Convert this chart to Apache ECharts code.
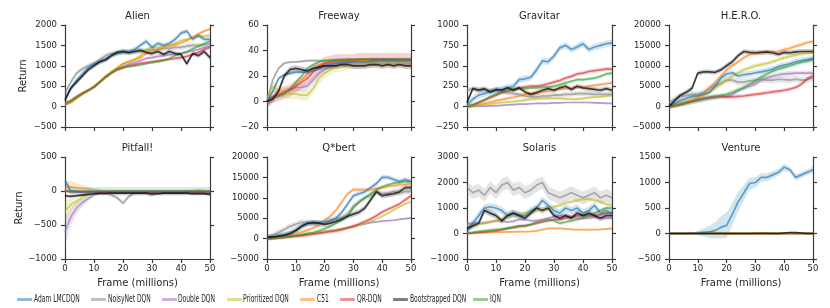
<!DOCTYPE html>
<html><head><meta charset="utf-8">
<script src="https://cdn.jsdelivr.net/npm/echarts@6/dist/echarts.min.js"></script>
<style>html,body{margin:0;padding:0;background:#fff}#c{width:830px;height:308px}</style>
</head><body><div id="c"></div>
<script>
// ---------- DATA ----------
const frames = [0,2,4,6,8,10,12,14,16,18,20,22,24,26,28,30,32,34,36,38,40,42,44,46,48,50];
const seriesNames = ['Adam LMCDQN','NoisyNet DQN','Double DQN','Prioritized DQN','C51','QR-DQN','Bootstrapped DQN','IQN'];
const gameTitles = ['Alien','Freeway','Gravitar','H.E.R.O.','Pitfall!','Q*bert','Solaris','Venture'];
const yMin  = [-500, -20, -250, -5000, -1000, -5000, -1000, -500];
const yMax  = [2000, 60, 1000, 20000, 500, 20000, 3000, 1500];
const yStep = [500, 20, 250, 5000, 500, 5000, 1000, 500];

// Alien
const alien_adam  = [200,450,650,800,950,1050,1100,1150,1250,1300,1350,1350,1400,1500,1600,1450,1550,1500,1550,1650,1800,1850,1650,1750,1650,1650];
const alien_noisy = [330,600,820,920,1000,1050,1150,1250,1300,1320,1330,1340,1350,1350,1380,1400,1400,1420,1430,1450,1450,1480,1500,1500,1520,1530];
const alien_double= [50,120,220,320,400,480,600,720,830,920,980,1040,1080,1130,1180,1200,1230,1250,1270,1290,1300,1330,1370,1400,1450,1480];
const alien_prior = [50,120,220,320,400,480,600,730,850,950,1050,1100,1150,1250,1400,1450,1450,1480,1500,1550,1620,1650,1700,1720,1730,1750];
const alien_c51   = [50,100,200,300,380,500,620,750,850,950,1050,1100,1150,1200,1300,1350,1400,1450,1480,1520,1560,1620,1700,1780,1850,1900];
const alien_qr    = [100,150,250,330,400,480,600,720,820,900,950,1000,1030,1060,1080,1100,1120,1140,1160,1180,1200,1230,1280,1330,1400,1450];
const alien_boot  = [150,450,600,750,900,1000,1100,1150,1250,1330,1350,1320,1350,1380,1330,1300,1350,1280,1350,1300,1280,1050,1300,1250,1350,1200];
const alien_iqn   = [50,130,230,320,400,480,600,720,830,920,960,980,1000,1020,1050,1080,1100,1130,1180,1250,1300,1350,1420,1480,1540,1600];
const alien_sd    = [60,60,40,40,40,40,60,30];

// Freeway
const freeway_adam  = [0,8,18,21,22,23,23,23,24,26,28,29,30,30,30.5,31,31,31,31.5,32,32,32,32,32,32,32];
const freeway_noisy = [0,17,26,30,31,31,31.5,32,32,32,32,32.5,33,33,33,33,33,33,33,33,33,33,33,33,33,33];
const freeway_double= [-2,2,5,7,9,11,11,12,17,22,25,27,29,30,31,31,31,31,31,31,31,31,31,31,31,31];
const freeway_prior = [2,12,9,7,6,6,5,5,10,18,22,25,27,28,29,30,30,30,31,31,31,31,31,31,31,31];
const freeway_c51   = [0,3,5,8,10,13,17,21,25,28,30,31,32,32,32,32,32,32,32,32,32,32,32,32,32,32];
const freeway_qr    = [0,4,5,7,9,12,15,18,23,27,30,31,32,32,32,32,33,33,33,33,33,33,33,33,33,33];
const freeway_boot  = [0,2,8,20,25,26,25,24,26,27,28,28,28,29,29,28,28,28,29,29,28,29,28,29,28,28];
const freeway_iqn   = [1,3,4,6,10,15,20,26,29,31,32,32,32,32.5,33,33,33,33,33,33,33,33,33,33,33,33];
const freeway_sd    = [1.5,1,3,4,1.5,5,2.5,1];

// Gravitar
const gravitar_adam  = [20,90,140,160,180,200,210,230,250,330,340,360,450,560,550,620,720,750,700,730,770,700,730,750,770,780];
const gravitar_noisy = [200,220,210,200,200,190,180,170,160,150,130,120,120,130,130,140,140,150,150,160,160,160,150,150,150,150];
const gravitar_double= [0,2,4,6,8,10,15,20,25,30,30,35,40,40,40,45,45,50,50,50,50,50,45,45,40,40];
const gravitar_prior = [0,10,15,20,30,40,50,55,60,70,80,90,95,100,100,100,100,95,90,90,100,110,115,120,130,140];
const gravitar_c51   = [0,10,25,40,55,70,85,100,115,130,150,160,170,180,190,200,210,220,230,240,240,250,260,270,280,290];
const gravitar_qr    = [0,20,50,80,110,140,170,190,210,230,240,250,250,260,280,300,320,350,370,400,410,430,440,450,460,460];
const gravitar_boot  = [50,220,200,220,180,210,200,230,200,230,180,150,170,200,220,200,230,250,210,250,230,220,210,200,220,200];
const gravitar_iqn   = [0,20,50,80,120,150,180,200,210,220,220,230,230,240,240,250,270,290,310,330,330,340,350,370,400,410];
const gravitar_sd    = [40,30,10,20,20,25,30,20];

// H.E.R.O.
const hero_adam  = [0,800,1500,2000,2500,2700,3000,3500,5000,7000,8000,8300,7500,7800,8000,8300,8500,8800,9200,9800,10200,10500,11000,11300,11500,11800];
const hero_noisy = [1000,1800,2500,2700,3000,3000,3500,4500,5200,5800,6500,6500,6000,6000,6300,6500,6700,6500,6500,6700,6600,6500,6700,6500,6600,7000];
const hero_double= [0,300,600,900,1200,1500,1800,2000,2200,2400,2500,3000,4000,4500,5000,5500,6500,7000,7500,7800,8000,8100,8200,8200,8200,8200];
const hero_prior = [0,300,700,1200,1700,2200,2800,3600,4500,5500,6500,7500,8300,9000,9500,10000,10300,10600,11000,11500,12000,12300,12600,12900,13100,13200];
const hero_c51   = [0,300,700,1100,1600,2200,3200,4500,6000,7500,9000,10000,11000,12000,12800,13000,13200,13300,13400,13500,14000,14300,14800,15200,15700,16000];
const hero_qr    = [0,200,500,900,1300,1700,2000,2300,2500,2500,2400,2400,2500,2600,2800,3000,3200,3400,3600,3800,4000,4300,4700,5500,6800,7500];
const hero_boot  = [0,1500,2800,3500,4500,8200,8500,8500,8400,9000,10000,11000,12500,13500,13300,13200,13300,13400,13200,12800,13300,13200,13400,13500,13500,13500];
const hero_iqn   = [0,300,600,900,1200,1500,1800,2100,2400,2700,3000,3500,4000,4700,5500,6300,7200,8000,8700,9200,9600,10000,10500,10900,11200,11500];
const hero_sd    = [700,800,600,600,500,500,600,600];

// Pitfall!
const pitfall_adam  = [150,0,-10,-10,-10,-10,-5,-5,-5,-5,-5,-5,-5,-5,-5,-5,-5,-5,-5,-5,-5,-5,-5,-5,-5,-5];
const pitfall_noisy = [0,-10,-15,-20,-20,-20,-20,-20,-60,-100,-180,-80,-30,-20,-30,-60,-30,-20,-20,-20,-20,-20,-20,-20,-30,-30];
const pitfall_double= [-600,-380,-250,-170,-110,-60,-25,-10,-5,0,0,0,0,0,0,0,0,0,0,0,0,0,0,0,-5,-5];
const pitfall_prior = [-300,-200,-150,-100,-60,-30,-10,-5,0,0,0,0,0,0,0,0,0,0,0,0,0,0,0,0,0,0];
const pitfall_c51   = [50,60,50,40,30,15,5,0,0,0,0,0,0,0,0,0,0,0,0,0,0,0,0,10,5,0];
const pitfall_qr    = [0,-10,-10,-15,-15,-15,-20,-20,-20,-20,-20,-20,-20,-20,-20,-20,-20,-20,-20,-20,-20,-20,-20,-20,-20,-20];
const pitfall_boot  = [-70,-80,-70,-60,-50,-40,-35,-35,-30,-30,-30,-30,-30,-30,-30,-40,-40,-30,-30,-30,-30,-30,-40,-40,-40,-50];
const pitfall_iqn   = [0,-5,-5,-5,-5,-5,-5,-5,-5,-5,-5,-5,-5,-5,-5,-5,-5,-5,-5,-5,-5,-5,-5,-5,-5,-5];
const pitfall_double_sd = [200,130,90,60,40,25,10,10,10,10,10,10,10,10,10,10,10,10,10,10,10,10,10,10,10,10];
const pitfall_prior_sd  = [150,100,70,50,30,15,10,10,10,10,10,10,10,10,10,10,10,10,10,10,10,10,10,10,10,10];
const pitfall_c51_sd    = [80,90,70,50,40,30,20,15,15,15,15,15,15,15,15,15,15,15,15,15,15,15,20,20,15,15];
const pitfall_sd    = [60,30,pitfall_double_sd,pitfall_prior_sd,pitfall_c51_sd,15,20,10];

// Q*bert
const qbert_adam  = [300,400,600,900,1400,2000,3000,3700,3900,3900,4000,4500,5000,6500,8500,10500,11000,11500,12500,13500,15000,15000,14500,14000,14500,14000];
const qbert_noisy = [300,800,1500,2200,3000,3500,4000,4000,3800,3700,4000,4300,4700,5200,6000,8000,9000,10000,10500,11500,11000,11000,11500,11200,11500,11500];
const qbert_double= [0,100,200,350,500,700,900,1100,1300,1500,1700,1900,2100,2400,2700,3000,3300,3600,3900,4100,4300,4400,4500,4700,4900,5100];
const qbert_prior = [0,100,200,350,500,700,900,1100,1300,1500,1800,2000,2200,2400,2700,3000,3300,3700,4200,4800,5500,6200,7000,7800,8500,9000];
const qbert_c51   = [0,200,400,600,900,1200,1600,2000,2600,3200,4500,5500,7000,9000,11000,12000,12000,12000,12000,12300,12500,12800,13000,13200,13300,13500];
const qbert_qr    = [0,100,200,300,450,600,750,900,1100,1300,1500,1700,1900,2200,2600,3000,3600,4200,4800,5600,6500,7200,7800,8500,9500,10500];
const qbert_boot  = [300,400,600,800,1200,2000,3000,3700,3900,3800,3500,3800,4200,4800,5500,6000,6500,7500,9500,11500,10500,10800,11000,11500,12500,12500];
const qbert_iqn   = [0,100,250,400,550,700,900,1200,1500,1900,2400,3000,3800,4500,5500,7500,9000,10000,11000,12000,12700,13200,13600,13800,14000,14000];
const qbert_sd    = [600,700,200,300,500,500,700,400];

// Solaris
const solaris_adam  = [100,400,700,1000,1050,1000,900,700,800,700,700,900,1000,1300,1100,900,800,1000,900,1000,800,900,1100,800,900,800];
const solaris_noisy = [1800,1600,1700,1500,1800,1600,1900,2000,1700,1800,1600,1700,1900,2000,1600,1500,1400,1500,1600,1500,1400,1500,1600,1400,1500,1400];
const solaris_double= [400,400,400,420,450,500,480,450,480,550,550,500,500,550,600,650,700,700,650,600,600,600,650,600,600,600];
const solaris_prior = [300,330,370,400,450,500,550,650,700,750,800,850,900,950,1000,1050,1100,1200,1250,1300,1350,1350,1300,1250,1150,1100];
const solaris_c51   = [0,10,20,30,40,50,55,60,65,70,70,80,100,150,200,200,200,180,160,150,150,150,150,160,180,200];
const solaris_qr    = [0,20,40,60,80,100,150,200,250,300,300,350,400,450,500,550,550,600,650,700,700,700,700,750,800,800];
const solaris_boot  = [200,300,400,900,800,700,500,700,800,700,600,800,1000,900,1000,700,600,700,600,800,700,800,700,600,700,700];
const solaris_iqn   = [0,40,80,100,130,150,170,200,230,270,300,350,450,500,550,500,400,450,500,550,600,700,800,900,1000,1000];
const solaris_sd    = [150,250,60,80,40,60,120,70];

// Venture
const venture_adam  = [0,0,0,0,5,10,20,30,60,120,160,380,620,800,980,1000,1100,1100,1150,1200,1300,1250,1100,1150,1200,1250];
const venture_noisy = [0,0,0,0,0,0,0,0,0,0,0,0,0,0,0,0,0,0,0,0,0,0,0,0,0,0];
const venture_double= [0,0,0,0,0,0,0,0,0,0,0,0,0,0,0,0,0,0,0,0,0,0,0,0,0,0];
const venture_prior = [0,0,0,0,5,20,30,30,20,10,0,0,0,0,0,0,0,0,0,0,0,0,0,0,0,0];
const venture_c51   = [0,0,0,0,0,0,0,0,0,0,0,0,0,0,0,0,0,0,0,0,0,0,0,0,0,0];
const venture_qr    = [0,0,0,0,0,0,0,0,0,0,0,0,0,0,0,5,10,5,0,0,0,0,0,0,0,0];
const venture_boot  = [0,0,0,0,0,0,0,0,0,0,0,0,0,0,0,0,0,0,0,0,10,20,20,10,0,0];
const venture_iqn   = [0,0,0,0,0,0,0,0,0,0,0,0,0,0,0,0,0,0,0,0,0,0,0,0,0,0];
const venture_adam_sd = [0,0,0,0,10,40,80,120,160,220,250,220,200,150,120,100,80,80,70,70,70,60,60,60,60,60];
const venture_sd    = [venture_adam_sd,10,10,25,10,15,15,10];

// ---------- BUILD ----------
const gameMeans = [
  [alien_adam,alien_noisy,alien_double,alien_prior,alien_c51,alien_qr,alien_boot,alien_iqn],
  [freeway_adam,freeway_noisy,freeway_double,freeway_prior,freeway_c51,freeway_qr,freeway_boot,freeway_iqn],
  [gravitar_adam,gravitar_noisy,gravitar_double,gravitar_prior,gravitar_c51,gravitar_qr,gravitar_boot,gravitar_iqn],
  [hero_adam,hero_noisy,hero_double,hero_prior,hero_c51,hero_qr,hero_boot,hero_iqn],
  [pitfall_adam,pitfall_noisy,pitfall_double,pitfall_prior,pitfall_c51,pitfall_qr,pitfall_boot,pitfall_iqn],
  [qbert_adam,qbert_noisy,qbert_double,qbert_prior,qbert_c51,qbert_qr,qbert_boot,qbert_iqn],
  [solaris_adam,solaris_noisy,solaris_double,solaris_prior,solaris_c51,solaris_qr,solaris_boot,solaris_iqn],
  [venture_adam,venture_noisy,venture_double,venture_prior,venture_c51,venture_qr,venture_boot,venture_iqn]
];
const gameSd = [alien_sd,freeway_sd,gravitar_sd,hero_sd,pitfall_sd,qbert_sd,solaris_sd,venture_sd];

const RGB = [[31,119,180],[127,127,127],[148,103,189],[188,189,34],[255,127,14],[214,39,40],[0,0,0],[44,160,44]];
const LINE_ALPHA = [0.65,0.6,0.6,0.6,0.6,0.6,0.7,0.6];
const rgba = (c,a) => `rgba(${c[0]},${c[1]},${c[2]},${a})`;
const DRAW_ORDER = [1,2,3,4,5,7,0,6];

const COL_L = [65,267,467,669];
const COL_W = [145,144,145,144];
const ROW_T = [25,157];
const GH = 102;
const FONT = '"DejaVu Sans", sans-serif';
const AX = '#3a3a3a';
const TXT = '#262626';
const minus = v => String(v).replace('-', '\u2212');

const grids=[], xAxes=[], yAxes=[], series=[], graphics=[];
for (let g=0; g<8; g++) {
  const row = g<4?0:1, col = g%4;
  grids.push({left:COL_L[col], top:ROW_T[row], width:COL_W[col], height:GH, containLabel:false, outerBoundsMode:'none'});
  xAxes.push({type:'value', gridIndex:g, min:0, max:50, interval:10,
    axisLine:{onZero:false, lineStyle:{color:AX, width:1.2}},
    axisTick:{show:true, length:4, lineStyle:{color:AX, width:1.2}},
    axisLabel:{show:row===1, margin:5, fontSize:8.5, color:TXT, fontFamily:FONT},
    splitLine:{show:false},
    name: row===1?'Frame (millions)':'', nameLocation:'middle', nameGap:19,
    nameTextStyle:{fontSize:10, color:TXT, fontFamily:FONT}});
  const yBase = {type:'value', gridIndex:g, min:yMin[g], max:yMax[g], interval:yStep[g],
    axisLine:{show:true, onZero:false, lineStyle:{color:AX, width:1.2}},
    axisTick:{show:true, length:4, lineStyle:{color:AX, width:1.2}},
    splitLine:{show:false}};
  yAxes.push(Object.assign({}, yBase, {position:'left',
    axisLabel:{show:true, margin:8, fontSize:8.5, color:TXT, fontFamily:FONT, formatter:minus},
    name: col===0?'Return':'', nameLocation:'middle', nameGap:37,
    nameTextStyle:{fontSize:10, color:TXT, fontFamily:FONT}}));
  yAxes.push(Object.assign({}, yBase, {position:'right', axisLabel:{show:false}}));

  graphics.push({type:'text', x:COL_L[col]+COL_W[col]/2, y: row?148:16, silent:true,
    style:{text:gameTitles[g], fill:TXT, fontSize:10, fontFamily:'DejaVu Sans', align:'center', verticalAlign:'middle'}});

  DRAW_ORDER.forEach(s => {
    const mean = gameMeans[g][s];
    const sdv = gameSd[g][s];
    const sd = Array.isArray(sdv) ? sdv : mean.map(()=>sdv);
    series.push({type:'custom', name:'band', xAxisIndex:g, yAxisIndex:2*g, silent:true, clip:true, z:2,
      data:[[0,0]], encode:{x:0,y:1},
      renderItem:(params, api) => {
        const pts=[];
        for (let i=0;i<frames.length;i++) pts.push(api.coord([frames[i], mean[i]+sd[i]]));
        for (let i=frames.length-1;i>=0;i--) pts.push(api.coord([frames[i], mean[i]-sd[i]]));
        return {type:'polygon', shape:{points:pts}, style:{fill:rgba(RGB[s],0.2), stroke:null}};
      }});
  });
  DRAW_ORDER.forEach(s => {
    const mean = gameMeans[g][s];
    series.push({type:'line', name:seriesNames[s], xAxisIndex:g, yAxisIndex:2*g, z:3,
      showSymbol:false, symbol:'none', silent:true, clip:true,
      lineStyle:{color:rgba(RGB[s],LINE_ALPHA[s]), width:1.7},
      itemStyle:{color:rgba(RGB[s],LINE_ALPHA[s])},
      data: frames.map((f,i)=>[f, mean[i]])});
  });
}

// Legend: icons from legend component, condensed labels as text elements
const LEG_X = [17,91,162,227,300,340,393,473];
const LEG_TX = [34,108,178,243,317,357,410,490];
const legends = seriesNames.map((n,i)=>({show:true, left:LEG_X[i], top:298, padding:0, orient:'horizontal',
  itemWidth:15, itemHeight:3, itemGap:0, icon:'roundRect', selectedMode:false,
  formatter: () => '',
  data:[{name:n, icon:'roundRect', itemStyle:{color:rgba(RGB[i],0.5), borderWidth:0}}],
  textStyle:{fontSize:9, color:TXT, fontFamily:FONT}}));
seriesNames.forEach((n,i)=>{
  graphics.push({type:'text', x:LEG_TX[i], y:299.5, scaleX:0.6, silent:true,
    style:{text:n, fill:TXT, fontSize:10, fontFamily:'DejaVu Sans', align:'left', verticalAlign:'middle'}});
});

const chart = echarts.init(document.getElementById('c'), null, {renderer:'canvas'});
chart.setOption({
  animation:false, backgroundColor:'#fff',
  grid:grids, xAxis:xAxes, yAxis:yAxes, series:series, legend:legends, graphic:graphics
});
</script></body></html>
